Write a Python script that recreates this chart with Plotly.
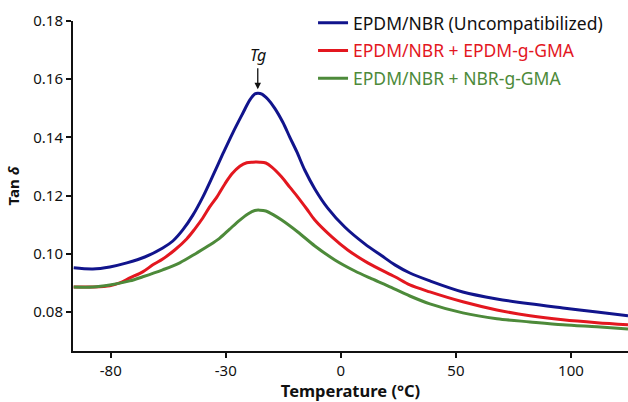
import plotly.graph_objects as go

# Axis coordinate (linear) and tick labels as printed on the reference
tick_vals = [-80, -30, 20, 70, 120]
tick_labels = ["-80", "-30", "0", "50", "100"]
y_ticks = [0.08, 0.10, 0.12, 0.14, 0.16, 0.18]

series_names = [
    "EPDM/NBR (Uncompatibilized)",
    "EPDM/NBR + EPDM-g-GMA",
    "EPDM/NBR + NBR-g-GMA",
]

blue_x = [-96.1, -87.8, -80.4, -73.0, -65.2, -57.4, -53.0, -48.7, -44.3, -40.0, -35.7,
          -31.3, -27.0, -22.6, -19.6, -17.4, -16.1, -14.3, -11.7, -8.7, -5.2, -2.2, 0.9,
          4.3, 8.7, 14.3, 21.7, 30.4, 37.8, 43.5, 50.0, 58.7, 73.0, 87.8, 102.2, 116.5,
          131.3, 144.8]
blue_y = [0.0952, 0.0948, 0.0955, 0.0969, 0.0989, 0.1020, 0.1044, 0.1082, 0.1133, 0.1195,
          0.1267, 0.1343, 0.1415, 0.1483, 0.1528, 0.1549, 0.1552, 0.1549, 0.1531, 0.1500,
          0.1452, 0.1401, 0.1350, 0.1288, 0.1223, 0.1157, 0.1092, 0.1034, 0.0993, 0.0962,
          0.0934, 0.0907, 0.0869, 0.0845, 0.0828, 0.0814, 0.0800, 0.0787]

red_x = [-96.1, -87.8, -80.4, -76.1, -71.7, -66.1, -61.7, -57.4, -52.2, -47.0, -43.5,
         -40.0, -37.0, -33.9, -30.4, -27.4, -23.9, -20.9, -18.3, -15.2, -12.6, -10.0,
         -5.7, -2.2, 1.3, 5.2, 8.7, 16.1, 23.0, 31.7, 43.5, 50.0, 58.7, 73.0, 87.8,
         102.2, 116.5, 131.3, 144.8]
red_y = [0.0886, 0.0886, 0.0890, 0.0900, 0.0917, 0.0938, 0.0962, 0.0982, 0.1013, 0.1051,
         0.1085, 0.1123, 0.1161, 0.1195, 0.1240, 0.1274, 0.1301, 0.1313, 0.1315, 0.1315,
         0.1312, 0.1298, 0.1264, 0.1229, 0.1195, 0.1154, 0.1116, 0.1058, 0.1013, 0.0969,
         0.0921, 0.0893, 0.0869, 0.0835, 0.0807, 0.0787, 0.0773, 0.0763, 0.0756]

green_x = [-96.1, -87.8, -80.4, -71.7, -66.1, -57.4, -50.0, -42.6, -37.0, -32.6, -28.3,
           -23.9, -20.4, -17.4, -15.2, -12.6, -9.1, -5.7, 1.3, 8.7, 17.4, 26.1, 32.6,
           40.4, 50.0, 58.7, 73.0, 87.8, 102.2, 116.5, 131.3, 144.8]
green_y = [0.0886, 0.0886, 0.0893, 0.0907, 0.0921, 0.0945, 0.0969, 0.1003, 0.1030, 0.1054,
           0.1085, 0.1116, 0.1137, 0.1149, 0.1150, 0.1147, 0.1133, 0.1116, 0.1075, 0.1027,
           0.0979, 0.0941, 0.0917, 0.0890, 0.0855, 0.0828, 0.0797, 0.0777, 0.0766, 0.0756,
           0.0749, 0.0742]

colors = ["#11148c", "#e3171f", "#4d8a3a"]
text_colors = ["#111111", "#e3171f", "#4d8a3a"]
font = "Noto Sans"

fig = go.Figure()
for i, (xs, ys) in enumerate([(blue_x, blue_y), (red_x, red_y), (green_x, green_y)]):
    fig.add_trace(go.Scatter(
        x=xs, y=ys, mode="lines",
        line=dict(color=colors[i], width=3, shape="spline", smoothing=0.9),
        name=f"<span style='color:{text_colors[i]}'>{series_names[i]}</span>",
        legendgroup=f"g{i}",
    ))

peak = blue_y.index(max(blue_y))
fig.add_annotation(
    x=blue_x[peak], y=blue_y[peak], xref="x", yref="y",
    text="<i>Tg</i>", showarrow=True, arrowhead=2, arrowsize=1, arrowwidth=1.3,
    arrowcolor="#111111", ax=0, ay=-25, standoff=4,
    font=dict(family=font, size=16, color="#111111"), yanchor="bottom",
)

fig.update_layout(
    width=628, height=402,
    margin=dict(l=73, r=0, t=21, b=51),
    paper_bgcolor="white", plot_bgcolor="white",
    font=dict(family=font, size=15, color="#111111"),
    showlegend=True,
    legend=dict(
        x=0.4325, y=1.049, xanchor="left", yanchor="top",
        font=dict(family=font, size=17.5),
        bgcolor="rgba(255,255,255,0)", tracegroupgap=2,
    ),
    xaxis=dict(
        range=[-96.4, 144.8], tickmode="array", tickvals=tick_vals, ticktext=tick_labels,
        showline=True, linecolor="#111111", linewidth=2, ticks="outside", ticklen=5,
        tickwidth=1.5, tickcolor="#111111", showgrid=False, zeroline=False,
        tickfont=dict(size=15),
        title=dict(text="<b>Temperature (°C)</b>", font=dict(size=16.5), standoff=11),
    ),
    yaxis=dict(
        range=[0.0666, 0.18], tickmode="array", tickvals=y_ticks, tickformat=".2f",
        showline=True, linecolor="#111111", linewidth=2, ticks="outside", ticklen=5,
        tickwidth=1.5, tickcolor="#111111", showgrid=False, zeroline=False,
        tickfont=dict(size=15),
        title=dict(text="<b>Tan <i>δ</i></b>", font=dict(size=15), standoff=10),
    ),
)

fig.write_html(
    "out.html",
    config={"displayModeBar": False},
    post_script="document.body.style.margin='0px';",
)
